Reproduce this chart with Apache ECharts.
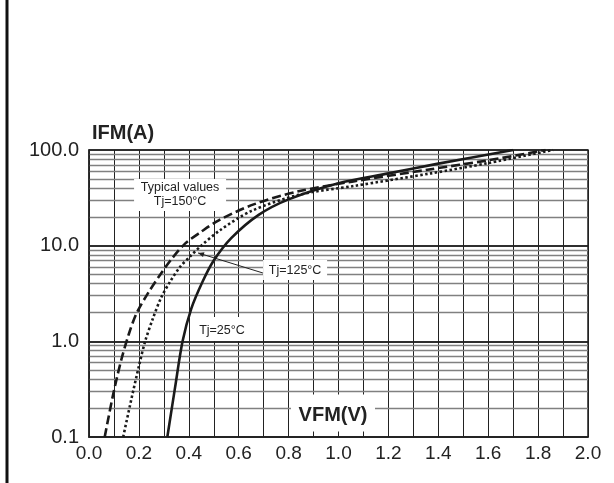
<!DOCTYPE html>
<html>
<head>
<meta charset="utf-8">
<script src="https://cdn.jsdelivr.net/npm/echarts@6/dist/echarts.min.js"></script>
<style>
html,body{margin:0;padding:0;background:#fff;}
#c{width:614px;height:483px;}
</style>
</head>
<body>
<div id="c"></div>
<script>
// ---- data (VFM in V, IFM in A) ----
var xTicks = [0.0, 0.2, 0.4, 0.6, 0.8, 1.0, 1.2, 1.4, 1.6, 1.8, 2.0];
var yTicks = [0.1, 1.0, 10.0, 100.0];
var tj25 = [[0.314,0.1],[0.345,0.33],[0.375,1],[0.41,2.2],[0.455,4.2],[0.50,7],[0.57,12],[0.68,21],[0.80,30.5],[1.0,45],[1.2,57],[1.4,72],[1.7,100]];
var tj125 = [[0.137,0.1],[0.17,0.25],[0.2,0.55],[0.225,1],[0.255,1.7],[0.29,2.9],[0.325,4.2],[0.365,6],[0.405,7.7],[0.45,10],[0.525,14.5],[0.65,23],[0.84,34],[1.06,42],[1.37,57],[1.6,73],[1.86,100]];
var tj150 = [[0.063,0.1],[0.097,0.28],[0.13,0.65],[0.16,1.2],[0.19,1.95],[0.24,3.3],[0.286,5],[0.33,7.2],[0.385,10.5],[0.45,14],[0.52,18.4],[0.66,27],[0.84,37],[1.06,47],[1.37,63],[1.6,78],[1.83,100]];
var minorGrid = [0.2,0.3,0.4,0.5,0.6,0.7,0.8,0.9,2,3,4,5,6,7,8,9,20,30,40,50,60,70,80,90];
var decadeGrid = [1, 10];
// annotation anchors in data coordinates
var labelTypical = {text: 'Typical values\nTj=150°C', at: [0.365, 33.9]};
var label125 = {text: 'Tj=125°C', at: [0.826, 5.56], from: [0.697, 5.18], to: [0.437, 8.4]};
var label25 = {text: 'Tj=25°C', at: [0.533, 1.31]};
var xName = {text: 'VFM(V)', at: [0.978, 0.18]};

var FONT = '"Liberation Sans", Arial, Helvetica, sans-serif';
var chart = echarts.init(document.getElementById('c'));

function fmt1(v){ return Number(v).toFixed(1); }

var option = {
  animation: false,
  backgroundColor: '#fff',
  grid: {left: 89, right: 26, top: 150, bottom: 46, show: true, borderColor: '#222', borderWidth: 1.5, backgroundColor: 'transparent'},
  xAxis: {
    type: 'value', min: 0, max: 2, interval: 0.1,
    axisLine: {show: true, lineStyle: {color: '#222', width: 1.5}},
    axisTick: {show: false},
    splitLine: {show: true, lineStyle: {color: '#222', width: 1}},
    axisLabel: {
      color: '#222', fontFamily: FONT, fontSize: 19, margin: 7,
      formatter: function(v){
        var k = Math.round(v * 10);
        return (k % 2 === 0) ? fmt1(v) : '';
      }
    }
  },
  yAxis: {
    type: 'log', logBase: 10, min: 0.1, max: 100,
    name: 'IFM(A)', nameLocation: 'end', nameGap: 7,
    nameTextStyle: {fontFamily: FONT, fontSize: 20, fontWeight: 'bold', color: '#222', align: 'left', verticalAlign: 'bottom', padding: [0,0,0,3]},
    axisLine: {show: true, lineStyle: {color: '#222', width: 1.5}},
    axisTick: {show: false},
    splitLine: {show: true, lineStyle: {color: '#222', width: 1.5}},
    axisLabel: {color: '#222', fontFamily: FONT, fontSize: 20, margin: 10, formatter: function(v){ return fmt1(v); }}
  },
  series: [
    {
      type: 'line', data: [], silent: true, z: 0,
      markLine: {
        z: 0, silent: true, symbol: ['none','none'], label: {show: false}, animation: false,
        lineStyle: {color: '#808080', width: 1.4, type: 'solid'},
        data: minorGrid.map(function(v){ return {yAxis: v}; }).concat(
          decadeGrid.map(function(v){ return {yAxis: v, lineStyle: {color: '#222', width: 1.5}}; }))
      }
    },
    {name: 'Tj=25°C', type: 'line', data: tj25, smooth: 0.3, showSymbol: false, zlevel: 1, z: 10,
     lineStyle: {color: '#1a1a1a', width: 2.6, type: 'solid'}},
    {name: 'Tj=125°C', type: 'line', data: tj125, smooth: 0.3, showSymbol: false, zlevel: 1, z: 10,
     lineStyle: {color: '#1a1a1a', width: 2.6, type: [2.5, 2.5]}},
    {name: 'Tj=150°C', type: 'line', data: tj150, smooth: 0.3, showSymbol: false, zlevel: 1, z: 10,
     lineStyle: {color: '#1a1a1a', width: 2.6, type: [9, 4]}}
  ]
};
chart.setOption(option);

function px(p){ return chart.convertToPixel({xAxisIndex: 0, yAxisIndex: 0}, p); }

var pT = px(labelTypical.at), p125 = px(label125.at), pf = px(label125.from), pt = px(label125.to);
var p25 = px(label25.at), pX = px(xName.at);

chart.setOption({
  graphic: [
    {type: 'line', shape: {x1: 7, y1: 0, x2: 7, y2: 483}, style: {stroke: '#111', lineWidth: 3}, z: 100},
    {type: 'rect', shape: {x: pT[0]-46, y: pT[1]-16, width: 92, height: 32}, style: {fill: '#fff'}, z: 50},
    {type: 'text', x: pT[0], y: pT[1], style: {text: labelTypical.text, fontFamily: FONT, fontSize: 12.5, lineHeight: 14, fill: '#222', align: 'center', verticalAlign: 'middle'}, z: 51},
    {type: 'rect', shape: {x: p125[0]-32, y: p125[1]-10, width: 64, height: 20}, style: {fill: '#fff'}, z: 50},
    {type: 'text', x: p125[0], y: p125[1], style: {text: label125.text, fontFamily: FONT, fontSize: 12.5, fill: '#222', align: 'center', verticalAlign: 'middle'}, z: 51},
    {type: 'line', shape: {x1: pf[0], y1: pf[1], x2: pt[0], y2: pt[1]}, style: {stroke: '#222', lineWidth: 1}, z: 52},
    {type: 'polygon', shape: {points: (function(){
        var dx = pt[0]-pf[0], dy = pt[1]-pf[1], L = Math.sqrt(dx*dx+dy*dy), ux = dx/L, uy = dy/L;
        var bx = pt[0]-ux*6, by = pt[1]-uy*6;
        return [[pt[0],pt[1]],[bx-uy*2.5,by+ux*2.5],[bx+uy*2.5,by-ux*2.5]];
      })()}, style: {fill: '#222'}, z: 52},
    {type: 'rect', shape: {x: p25[0]-30, y: p25[1]-13, width: 61, height: 24}, style: {fill: '#fff'}, z: 50},
    {type: 'text', x: p25[0], y: p25[1], style: {text: label25.text, fontFamily: FONT, fontSize: 12.5, fill: '#222', align: 'center', verticalAlign: 'middle'}, z: 51},
    {type: 'rect', shape: {x: pX[0]-42, y: pX[1]-18, width: 84, height: 37}, style: {fill: '#fff'}, z: 50},
    {type: 'text', x: pX[0], y: pX[1]+3, style: {text: xName.text, fontFamily: FONT, fontSize: 20, fontWeight: 'bold', fill: '#222', align: 'center', verticalAlign: 'middle'}, z: 51}
  ]
});
</script>
</body>
</html>
